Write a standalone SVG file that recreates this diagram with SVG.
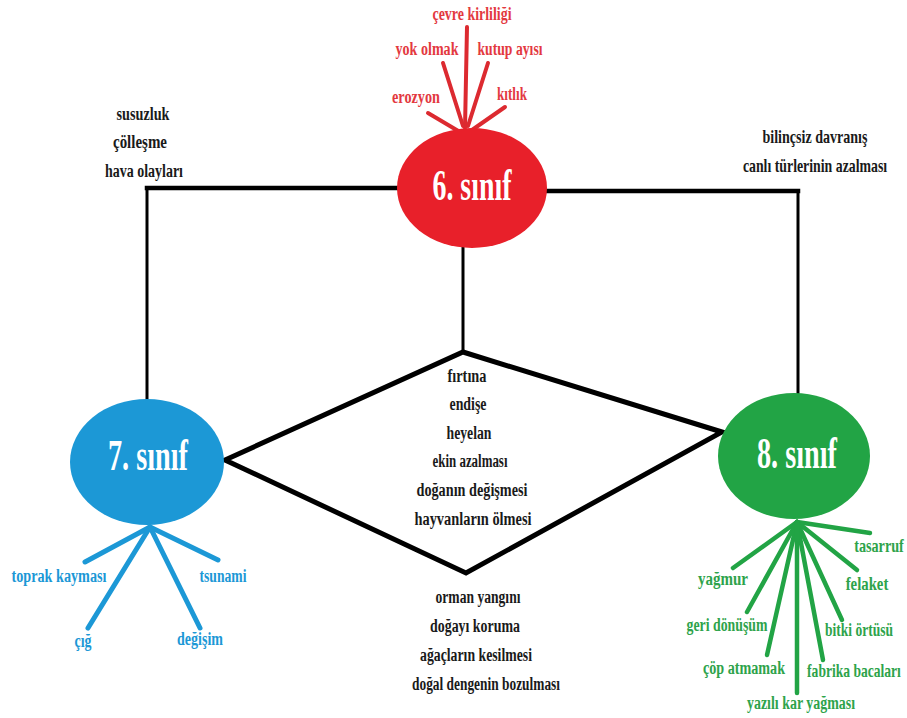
<svg xmlns="http://www.w3.org/2000/svg" width="907" height="718" viewBox="0 0 907 718">
<style>
text{font-family:"Liberation Serif","Times New Roman",serif;font-weight:bold;text-anchor:middle}
.lbl{font-size:18px}
.k{fill:#1a1a1a}
.r{fill:#e3393f}
.b{fill:#1c98d6}
.g{fill:#2ea34b}
.node{font-size:44px;fill:#fff}
.frame{stroke:#000;fill:none;stroke-linecap:square}
.rs{stroke:#dc2a30;stroke-width:4;stroke-linecap:round}
.bs{stroke:#1c98d6;stroke-width:5;stroke-linecap:round}
.gs{stroke:#22a445;stroke-width:4.5;stroke-linecap:round}
</style>
<rect width="907" height="718" fill="#fff"/>
<g id="connectors">
<path class="frame" stroke-width="4.5" d="M147 188H400"/>
<path class="frame" stroke-width="3" d="M147 188V402"/>
<path class="frame" stroke-width="4.5" d="M545 191H798"/>
<path class="frame" stroke-width="3" d="M798 191V395"/>
<path class="frame" stroke-width="3" d="M463 246V352"/>
<path class="frame" stroke-width="5" stroke-linejoin="miter" d="M463 352L722 432L466 573L225 460Z"/>
<g id="red-spokes">
<line class="rs" x1="467" y1="27" x2="465" y2="128"/>
<line class="rs" x1="443" y1="63" x2="463" y2="126"/>
<line class="rs" x1="488" y1="63" x2="468" y2="126"/>
<line class="rs" x1="428" y1="113" x2="460" y2="132"/>
<line class="rs" x1="505" y1="107" x2="472" y2="130"/>
</g>
<g id="blue-spokes">
<line class="bs" x1="150" y1="527" x2="85" y2="562"/>
<line class="bs" x1="150" y1="527" x2="88" y2="628"/>
<line class="bs" x1="150" y1="527" x2="218" y2="560"/>
<line class="bs" x1="150" y1="527" x2="200" y2="628"/>
</g>
<g id="green-spokes">
<line class="gs" x1="797" y1="522" x2="870" y2="533"/>
<line class="gs" x1="797" y1="522" x2="733" y2="568"/>
<line class="gs" x1="797" y1="522" x2="857" y2="570"/>
<line class="gs" x1="797" y1="522" x2="747" y2="612"/>
<line class="gs" x1="797" y1="522" x2="842" y2="620"/>
<line class="gs" x1="797" y1="522" x2="767" y2="655"/>
<line class="gs" x1="797" y1="522" x2="823" y2="660"/>
<line class="gs" x1="797" y1="522" x2="797" y2="693"/>
</g>
</g>
<g id="node-6">
<ellipse cx="472" cy="188" rx="75" ry="60" fill="#e8202a"/>
<text class="node" x="472" y="200" textLength="79" lengthAdjust="spacingAndGlyphs">6. sınıf</text>
</g>
<g id="node-7">
<ellipse cx="147" cy="462" rx="77" ry="63" fill="#1c98d6"/>
<text class="node" x="148" y="470" textLength="80" lengthAdjust="spacingAndGlyphs">7. sınıf</text>
</g>
<g id="node-8">
<ellipse cx="794" cy="456" rx="76" ry="63" fill="#22a445"/>
<text class="node" x="797" y="468" textLength="80" lengthAdjust="spacingAndGlyphs">8. sınıf</text>
</g>
<g id="labels-6">
<text class="lbl r" x="472" y="20" textLength="79" lengthAdjust="spacingAndGlyphs">çevre kirliliği</text>
<text class="lbl r" x="427" y="55" textLength="63" lengthAdjust="spacingAndGlyphs">yok olmak</text>
<text class="lbl r" x="510" y="55" textLength="65" lengthAdjust="spacingAndGlyphs">kutup ayısı</text>
<text class="lbl r" x="416" y="103" textLength="48" lengthAdjust="spacingAndGlyphs">erozyon</text>
<text class="lbl r" x="512" y="100" textLength="30" lengthAdjust="spacingAndGlyphs">kıtlık</text>
</g>
<g id="labels-left">
<text class="lbl k" x="143" y="120" textLength="53" lengthAdjust="spacingAndGlyphs">susuzluk</text>
<text class="lbl k" x="140" y="148" textLength="54" lengthAdjust="spacingAndGlyphs">çölleşme</text>
<text class="lbl k" x="144" y="177" textLength="78" lengthAdjust="spacingAndGlyphs">hava olayları</text>
</g>
<g id="labels-right">
<text class="lbl k" transform="translate(815 143) scale(0.7 1)" x="0" y="0" textLength="150" lengthAdjust="spacingAndGlyphs">bilinçsiz davranış</text>
<text class="lbl k" transform="translate(815 172) scale(0.7 1)" x="0" y="0" textLength="206" lengthAdjust="spacingAndGlyphs">canlı türlerinin azalması</text>
</g>
<g id="labels-center">
<text class="lbl k" x="467" y="382" textLength="39" lengthAdjust="spacingAndGlyphs">fırtına</text>
<text class="lbl k" x="468" y="410" textLength="37" lengthAdjust="spacingAndGlyphs">endişe</text>
<text class="lbl k" x="469" y="439" textLength="45" lengthAdjust="spacingAndGlyphs">heyelan</text>
<text class="lbl k" x="470" y="467" textLength="75" lengthAdjust="spacingAndGlyphs">ekin azalması</text>
<text class="lbl k" x="472" y="496" textLength="111" lengthAdjust="spacingAndGlyphs">doğanın değişmesi</text>
<text class="lbl k" x="473" y="525" textLength="117" lengthAdjust="spacingAndGlyphs">hayvanların ölmesi</text>
</g>
<g id="labels-bottom">
<text class="lbl k" x="478" y="603" textLength="85" lengthAdjust="spacingAndGlyphs">orman yangını</text>
<text class="lbl k" x="475" y="632" textLength="90" lengthAdjust="spacingAndGlyphs">doğayı koruma</text>
<text class="lbl k" x="476" y="661" textLength="112" lengthAdjust="spacingAndGlyphs">ağaçların kesilmesi</text>
<text class="lbl k" x="486" y="690" textLength="148" lengthAdjust="spacingAndGlyphs">doğal dengenin bozulması</text>
</g>
<g id="labels-7">
<text class="lbl b" x="59" y="582" textLength="95" lengthAdjust="spacingAndGlyphs">toprak kayması</text>
<text class="lbl b" x="223" y="582" textLength="47" lengthAdjust="spacingAndGlyphs">tsunami</text>
<text class="lbl b" x="83" y="647" textLength="17" lengthAdjust="spacingAndGlyphs">çığ</text>
<text class="lbl b" x="200" y="645" textLength="46" lengthAdjust="spacingAndGlyphs">değişim</text>
</g>
<g id="labels-8">
<text class="lbl g" transform="translate(879 552) scale(0.7 1)" x="0" y="0" textLength="71" lengthAdjust="spacingAndGlyphs">tasarruf</text>
<text class="lbl g" x="723" y="585" textLength="50" lengthAdjust="spacingAndGlyphs">yağmur</text>
<text class="lbl g" transform="translate(867 590) scale(0.7 1)" x="0" y="0" textLength="61" lengthAdjust="spacingAndGlyphs">felaket</text>
<text class="lbl g" x="727" y="631" textLength="81" lengthAdjust="spacingAndGlyphs">geri dönüşüm</text>
<text class="lbl g" transform="translate(859 636) scale(0.7 1)" x="0" y="0" textLength="97" lengthAdjust="spacingAndGlyphs">bitki örtüsü</text>
<text class="lbl g" x="744" y="674" textLength="82" lengthAdjust="spacingAndGlyphs">çöp atmamak</text>
<text class="lbl g" transform="translate(854 677) scale(0.7 1)" x="0" y="0" textLength="134" lengthAdjust="spacingAndGlyphs">fabrika bacaları</text>
<text class="lbl g" x="801" y="709" textLength="108" lengthAdjust="spacingAndGlyphs">yazılı kar yağması</text>
</g>
</svg>
